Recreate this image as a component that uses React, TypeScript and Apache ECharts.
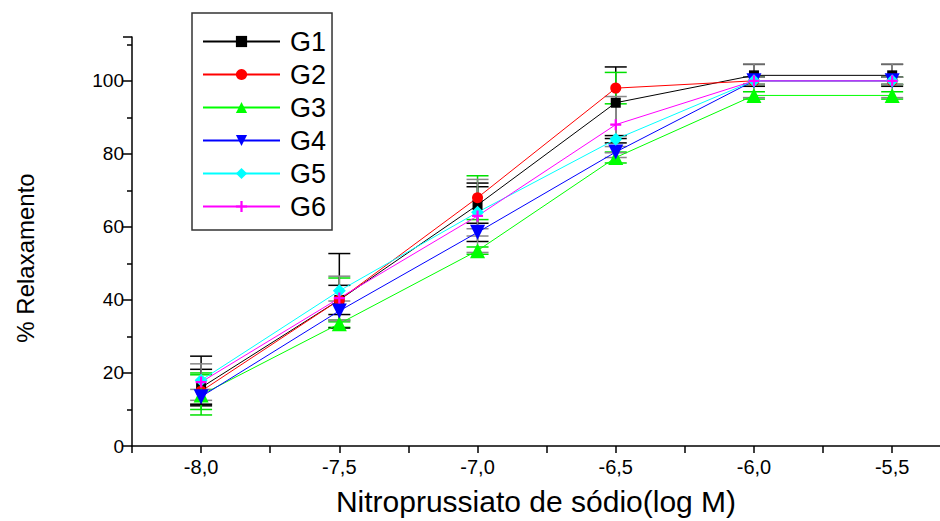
import React, { useEffect, useRef } from "react";
import * as echarts from "echarts";

const xValues = [-8.0, -7.5, -7.0, -6.5, -6.0, -5.5];
const seriesNames = ["G1", "G2", "G3", "G4", "G5", "G6"];
const g1 = [16, 40, 66, 94, 101.5, 101.5];
const g2 = [15, 40, 68, 98, 100, 100];
const g3 = [14, 33.5, 53.5, 79, 96, 96];
const g4 = [13.5, 37, 58.5, 80.5, 100, 100];
const g5 = [18, 42.5, 64, 84, 100, 100];
const g6 = [17.5, 40.5, 63, 88, 100, 100];
const e1 = [5, 4, 5, 9.8, 3, 3];
const e2 = [5, 6, 6, 4.3, 1, 1];
const e3 = [5.5, 1, 1, 1.5, 1, 1];
const e4 = [2, 2.7, 1, 1.5, 4.6, 4.6];
const e5 = [6.6, 10.2, 8, 1, 1, 1];
const e6 = [5, 6, 10, 7.7, 1, 1];

const means = [g1, g2, g3, g4, g5, g6];
const errs = [e1, e2, e3, e4, e5, e6];
const lineColors = ["#000000", "#ff0000", "#00ff00", "#0000ff", "#00ffff", "#ff00ff"];
const errColors = ["#000000", "#00e000", "#00e000", "#888888", "#000000", "#888888"];
const symbols = [
  "rect",
  "circle",
  "triangle",
  "triangle",
  "diamond",
  "path://M4,0h2v4h4v2h-4v4h-2v-4h-4v-2h4z",
];
const symbolSizes = [10, 11, 15, 15, 13, 11];
const symbolRotates = [0, 0, 0, 180, 0, 0];

const FONT = "'Liberation Sans', Arial, sans-serif";

export default function App() {
  const ref = useRef<HTMLDivElement>(null);
  useEffect(() => {
    if (!ref.current) return;
    const chart = echarts.init(ref.current, undefined, { renderer: "svg" });
    const errSeries = means.map((m, i) => ({
      type: "custom",
      name: seriesNames[i] + "_err",
      z: 1,
      silent: true,
      data: xValues.map((x, j) => [x, m[j] - errs[i][j], m[j] + errs[i][j]]),
      renderItem: (params: any, api: any) => {
        const x = api.value(0);
        const lo = api.coord([x, api.value(1)]);
        const hi = api.coord([x, api.value(2)]);
        const hw = 11;
        const style = { stroke: errColors[i], lineWidth: 1.5 };
        return {
          type: "group",
          children: [
            { type: "line", shape: { x1: lo[0], y1: lo[1], x2: hi[0], y2: hi[1] }, style },
            { type: "line", shape: { x1: lo[0] - hw, y1: lo[1], x2: lo[0] + hw, y2: lo[1] }, style },
            { type: "line", shape: { x1: hi[0] - hw, y1: hi[1], x2: hi[0] + hw, y2: hi[1] }, style },
          ],
        };
      },
    }));
    const lineSeries = means.map((m, i) => ({
      type: "line",
      name: seriesNames[i],
      z: 3,
      data: xValues.map((x, j) => [x, m[j]]),
      symbol: symbols[i],
      symbolSize: symbolSizes[i],
      symbolRotate: symbolRotates[i],
      showAllSymbol: true,
      lineStyle: { color: lineColors[i], width: 1 },
      itemStyle: { color: lineColors[i] },
    }));
    chart.setOption({
      animation: false,
      backgroundColor: "#ffffff",
      textStyle: { fontFamily: FONT },
      grid: { left: 132, right: 0, top: 37, bottom: 74, containLabel: false },
      legend: {
        orient: "vertical",
        left: 192,
        top: 13,
        data: seriesNames,
        itemWidth: 77,
        itemHeight: 14,
        itemGap: 6,
        padding: [15, 6, 10, 10],
        borderColor: "#333",
        borderWidth: 1.5,
        textStyle: { fontSize: 27, color: "#000", fontFamily: FONT, lineHeight: 26, padding: [0, 0, 0, 5] },
      },
      graphic: [
        {
          type: "text",
          x: 25,
          y: 258,
          rotation: Math.PI / 2,
          style: {
            text: "% Relaxamento",
            font: "24px 'Liberation Sans', Arial, sans-serif",
            fill: "#000",
            align: "center",
            verticalAlign: "middle",
          },
        },
      ],
      xAxis: {
        type: "value",
        min: -8.25,
        max: -5.327,
        interval: 0.25,
        axisLine: { show: true, onZero: false, lineStyle: { color: "#000", width: 1.5 } },
        axisTick: { show: true, inside: false, length: 7, lineStyle: { color: "#000", width: 1.5 } },
        splitLine: { show: false },
        axisLabel: {
          fontSize: 20,
          color: "#000",
          margin: 11,
          fontFamily: FONT,
          showMaxLabel: false,
          formatter: (v: number) =>
            Math.abs(v * 2 - Math.round(v * 2)) < 1e-6 ? v.toFixed(1).replace(".", ",") : "",
        },
        name: "Nitroprussiato de sódio(log M)",
        nameLocation: "middle",
        nameGap: 40,
        nameTextStyle: { fontSize: 30, color: "#000", fontFamily: FONT },
      },
      yAxis: {
        type: "value",
        min: 0,
        max: 112,
        interval: 20,
        axisLine: { show: true, lineStyle: { color: "#000", width: 1.5 } },
        axisTick: { show: true, inside: false, length: 9, lineStyle: { color: "#000", width: 1.5 } },
        minorTick: { show: true, splitNumber: 2, length: 5, lineStyle: { color: "#000", width: 1.5 } },
        splitLine: { show: false },
        axisLabel: { fontSize: 19, color: "#000", margin: 8, fontFamily: FONT, showMaxLabel: false },
      },
      series: [...errSeries, ...lineSeries],
    });
    return () => chart.dispose();
  }, []);
  return <div ref={ref} style={{ width: 940, height: 521, position: "absolute", left: 0, top: 0 }} />;
}
